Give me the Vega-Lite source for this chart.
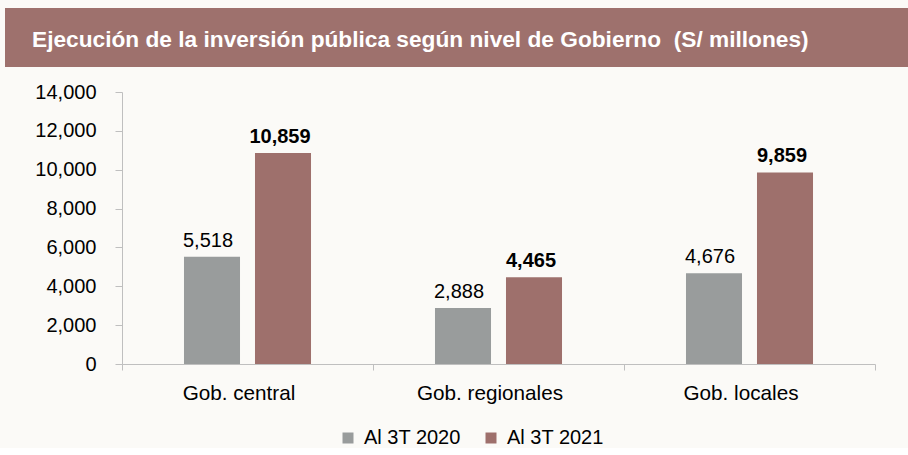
{
  "$schema": "https://vega.github.io/schema/vega-lite/v6.json",
  "background": "#FBFAF7",
  "padding": {"left": 5, "top": 8, "right": 0, "bottom": 0},
  "spacing": 15,
  "config": {"view": {"stroke": null}, "font": "Liberation Sans"},
  "resolve": {"legend": {"color": "independent"}, "scale": {"color": "independent"}},
  "vconcat": [
    {
      "width": 903,
      "height": 59,
      "view": {"fill": "#9E716D", "stroke": null},
      "data": {"values": [{"t": "Ejecución de la inversión pública según nivel de Gobierno \u00a0(S/ millones)"}]},
      "mark": {"type": "text", "align": "left", "baseline": "alphabetic", "font": "Liberation Sans", "fontWeight": "bold", "fontSize": 22.7, "color": "#FFFFFF"},
      "encoding": {"text": {"field": "t"}, "x": {"value": 27}, "y": {"value": 39}}
    },
    {
      "width": 870,
      "height": 272,
      "view": {"fill": null, "stroke": null},
      "data": {"values": [
        {"nivel": "Gob. central", "periodo": "Al 3T 2020", "valor": 5518},
        {"nivel": "Gob. central", "periodo": "Al 3T 2021", "valor": 10859},
        {"nivel": "Gob. regionales", "periodo": "Al 3T 2020", "valor": 2888},
        {"nivel": "Gob. regionales", "periodo": "Al 3T 2021", "valor": 4465},
        {"nivel": "Gob. locales", "periodo": "Al 3T 2020", "valor": 4676},
        {"nivel": "Gob. locales", "periodo": "Al 3T 2021", "valor": 9859}
      ]},
      "encoding": {
        "x": {
          "field": "nivel", "type": "nominal", "sort": null,
          "scale": {"paddingInner": 0, "paddingOuter": 0, "range": [117, 870]},
          "axis": {"title": null, "labelAngle": 0, "labelFontSize": 20.7, "labelColor": "#000000", "labelFont": "Liberation Sans", "domainColor": "#BFBFBF", "tickColor": "#BFBFBF", "tickBand": "extent", "tickSize": 6, "labelPadding": 13, "labelOffset": -9}
        },
        "xOffset": {"field": "periodo", "type": "nominal", "sort": null, "scale": {"paddingInner": 0.211, "paddingOuter": 0.873}},
        "y": {
          "field": "valor", "type": "quantitative",
          "scale": {"domain": [0, 14000]},
          "axis": {"title": null, "offset": -117, "values": [0, 2000, 4000, 6000, 8000, 10000, 12000, 14000], "format": ",.0f", "grid": false, "labelFontSize": 20, "labelColor": "#000000", "labelFont": "Liberation Sans", "domainColor": "#BFBFBF", "tickColor": "#BFBFBF", "tickSize": 7, "labelPadding": 19}
        }
      },
      "layer": [
        {
          "mark": {"type": "bar"},
          "encoding": {
            "color": {
              "field": "periodo", "type": "nominal", "sort": null,
              "scale": {"domain": ["Al 3T 2020", "Al 3T 2021"], "range": ["#999C9C", "#9E706C"]},
              "legend": {"title": null, "orient": "none", "direction": "horizontal", "legendX": 333, "legendY": 336, "symbolType": "square", "symbolSize": 121, "symbolStrokeWidth": 0, "symbolOpacity": 1, "labelFontSize": 20, "labelFont": "Liberation Sans", "labelColor": "#000000", "labelOffset": 6, "columnPadding": 20, "padding": 0}
            }
          }
        },
        {
          "transform": [{"filter": "datum.periodo == 'Al 3T 2020'"}],
          "mark": {"type": "text", "baseline": "alphabetic", "dy": -10, "dx": -4, "fontSize": 20, "font": "Liberation Sans", "color": "#000000"},
          "encoding": {"text": {"field": "valor", "type": "quantitative", "format": ",.0f"}}
        },
        {
          "transform": [{"filter": "datum.periodo == 'Al 3T 2021'"}],
          "mark": {"type": "text", "baseline": "alphabetic", "dy": -10, "dx": -3, "fontSize": 20, "fontWeight": "bold", "font": "Liberation Sans", "color": "#000000"},
          "encoding": {"text": {"field": "valor", "type": "quantitative", "format": ",.0f"}}
        }
      ]
    }
  ]
}
